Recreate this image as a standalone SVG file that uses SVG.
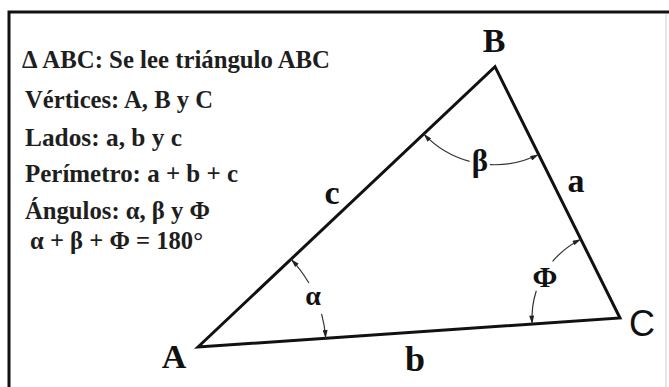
<svg xmlns="http://www.w3.org/2000/svg" width="669" height="387" viewBox="0 0 669 387">
<style>
.info{font-family:"Liberation Serif","Times New Roman",serif;font-weight:bold;font-size:25px;fill:#1e1e1e}
.lbl{font-family:"Liberation Serif","Times New Roman",serif;font-weight:bold;fill:#111;text-anchor:middle}
.tri{fill:none;stroke:#111;stroke-width:3;stroke-linejoin:miter}
.arc{fill:none;stroke:#333;stroke-width:1.2}
</style>
<defs>
<marker id="ah" viewBox="0 0 10 6" refX="10" refY="3" markerWidth="9" markerHeight="5" markerUnits="userSpaceOnUse" orient="auto">
<path d="M0,0 L10,3 L0,6 Z" fill="#222"/>
</marker>
</defs>
<rect x="0" y="0" width="669" height="387" fill="#fff"/>
<g id="frame">
<line x1="666" y1="14" x2="666" y2="387" stroke="#dcdcdc" stroke-width="1.5"/>
<polyline points="9,387 9,12 669,12" fill="none" stroke="#111" stroke-width="3"/>
</g>
<g id="info">
<text class="info" x="22" y="68" textLength="308" lengthAdjust="spacingAndGlyphs">Δ ABC: Se lee triángulo ABC</text>
<text class="info" x="25" y="108" textLength="188" lengthAdjust="spacingAndGlyphs">Vértices: A, B y C</text>
<text class="info" x="25" y="146" textLength="157" lengthAdjust="spacingAndGlyphs">Lados: a, b y c</text>
<text class="info" x="25" y="182" textLength="213" lengthAdjust="spacingAndGlyphs">Perímetro: a + b + c</text>
<text class="info" x="25" y="219" textLength="185" lengthAdjust="spacingAndGlyphs">Ángulos: α, β y Φ</text>
<text class="info" x="30" y="249" textLength="173" lengthAdjust="spacingAndGlyphs">α + β + Φ = 180°</text>
</g>
<g id="triangle">
<polygon class="tri" points="198,347 495,66.7 620,318"/>
</g>
<g id="connectors">
<path class="arc" d="M 308.9 283 A 128 128 0 0 0 291.2 259.3" marker-end="url(#ah)"/>
<path class="arc" d="M 321.6 313.9 A 128 128 0 0 1 325.7 338.3" marker-end="url(#ah)"/>
<path class="arc" d="M 469.6 161.4 A 98 98 0 0 1 423.7 133.9" marker-end="url(#ah)"/>
<path class="arc" d="M 489.9 164.6 A 98 98 0 0 0 538.6 154.5" marker-end="url(#ah)"/>
<path class="arc" d="M 552.6 261.4 A 88 88 0 0 1 580.9 239.2" marker-end="url(#ah)"/>
<path class="arc" d="M 536.3 290.8 A 88 88 0 0 0 532.2 324" marker-end="url(#ah)"/>
</g>
<g id="vertex-A"><text class="lbl" x="174" y="368" font-size="34">A</text></g>
<g id="vertex-B"><text class="lbl" x="494" y="52" font-size="34">B</text></g>
<g id="vertex-C"><text x="642" y="336" font-size="36" text-anchor="middle" font-family="Liberation Sans, Arial, sans-serif" fill="#111">C</text></g>
<g id="side-a"><text class="lbl" x="576" y="192" font-size="34">a</text></g>
<g id="side-b"><text class="lbl" x="415" y="371" font-size="36">b</text></g>
<g id="side-c"><text class="lbl" x="332" y="204" font-size="34">c</text></g>
<g id="angle-alpha"><text class="lbl" x="313" y="305" font-size="28">α</text></g>
<g id="angle-beta"><text class="lbl" x="480" y="171" font-size="31">β</text></g>
<g id="angle-phi"><text class="lbl" x="545" y="287" font-size="30">Φ</text></g>
</svg>
